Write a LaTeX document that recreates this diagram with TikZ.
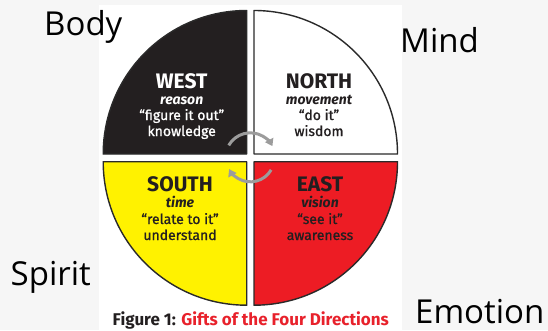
\documentclass[tikz,border=0pt]{standalone}
\usepackage{fontspec}
\setmainfont{Fira Sans}
\newfontfamily\labelfont{Open Sans}
\newfontfamily\medfont[FakeBold=1]{Fira Sans}
\usetikzlibrary{arrows.meta}
\definecolor{bggray}{HTML}{F6F6F6}
\definecolor{quadblack}{HTML}{231F20}
\definecolor{quadyellow}{HTML}{FFF200}
\definecolor{quadred}{HTML}{ED1C24}
\definecolor{edgegray}{HTML}{2A2A2A}
\definecolor{arrowgray}{HTML}{9C9C9C}
\definecolor{capred}{HTML}{E8212B}
\tikzset{
  quad/.style={draw=edgegray, line width=1.4pt, line join=round},
  dirtitle/.style={anchor=base, inner sep=0pt, font=\bfseries\fontsize{21}{24}\selectfont},
  dirsub/.style={anchor=base, inner sep=0pt, font=\bfseries\itshape\fontsize{14}{17}\selectfont},
  dirtext/.style={anchor=base, inner sep=0pt, font=\medfont\fontsize{14}{17}\selectfont},
  outer/.style={anchor=base west, inner sep=0pt, font=\labelfont\fontsize{33}{38}\selectfont, text=black},
  cycarrow/.style={draw=arrowgray, line width=3pt, -{Triangle[length=7pt,width=9pt]}}
}
\begin{document}
\begin{tikzpicture}[x=1pt,y=1pt]
\useasboundingbox (0,0) rectangle (548,330);
\fill[bggray] (0,0) rectangle (548,330);
\fill[white] (99,0) rectangle (402,325);
% quadrants
\draw[quad, fill=quadblack] (246.7,176) -- ++(-143.5,0) arc[start angle=180, end angle=90, radius=143.5] -- cycle;
\draw[quad, fill=white] (254,176) -- ++(0,143.5) arc[start angle=90, end angle=0, radius=143.5] -- cycle;
\draw[quad, fill=quadyellow] (246.7,168.3) -- ++(-143.5,0) arc[start angle=180, end angle=270, radius=143.5] -- cycle;
\draw[quad, fill=quadred] (254,168.3) -- ++(143.5,0) arc[start angle=0, end angle=-90, radius=143.5] -- cycle;
% cycle arrows
\coordinate (gc) at (250.35,172.15);
\draw[cycarrow] ([shift={(150:25)}]gc) arc[start angle=150, end angle=28, radius=25];
\draw[cycarrow] ([shift={(-30:24)}]gc) arc[start angle=-30, end angle=-152, radius=24];
% WEST
\node[dirtitle, text=white] (west) at (181.7,241.7) {WEST};
\node[dirsub, text=white] (westa) at (181.7,226) {reason};
\node[dirtext, text=white] (westb) at (181.7,210) {“figure it out”};
\node[dirtext, text=white] (westc) at (181.7,194) {knowledge};
% NORTH
\node[dirtitle, text=quadblack] (north) at (319,241.7) {NORTH};
\node[dirsub, text=quadblack] (northa) at (319,226) {movement};
\node[dirtext, text=quadblack] (northb) at (319,210) {“do it”};
\node[dirtext, text=quadblack] (northc) at (319,194) {wisdom};
% SOUTH
\node[dirtitle, text=quadblack] (south) at (180,138.3) {SOUTH};
\node[dirsub, text=quadblack] (southa) at (180,122.7) {time};
\node[dirtext, text=quadblack] (southb) at (180,106) {“relate to it”};
\node[dirtext, text=quadblack] (southc) at (180,90) {understand};
% EAST
\node[dirtitle, text=quadblack] (east) at (320,138.3) {EAST};
\node[dirsub, text=quadblack] (easta) at (320,122.7) {vision};
\node[dirtext, text=quadblack] (eastb) at (320,106) {“see it”};
\node[dirtext, text=quadblack] (eastc) at (320,90) {awareness};
% caption
\node[anchor=base, inner sep=0pt, font=\bfseries\fontsize{17}{20}\selectfont] (caption) at (250.8,4.2)
  {\textcolor{quadblack}{Figure 1:} \textcolor{capred}{Gifts of the Four Directions}};
% outer labels
\node[outer] (body) at (44,294) {Body};
\node[outer] (mind) at (400,277.7) {Mind};
\node[outer] (spirit) at (10.5,45) {Spirit};
\node[outer] (emotion) at (415,7) {Emotion};
\end{tikzpicture}
\end{document}
